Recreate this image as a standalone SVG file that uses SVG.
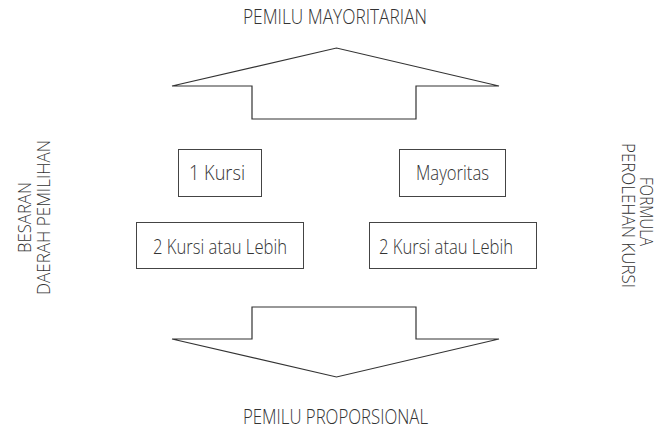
<svg xmlns="http://www.w3.org/2000/svg" width="664" height="432" viewBox="0 0 664 432">
<style>
.t{font-family:"Open Sans","Noto Sans",sans-serif;font-size:20px;font-weight:300;fill:#333;}
.v{font-size:18px;}
.c{text-anchor:middle;}
.shape{fill:#fff;stroke:#333;stroke-width:1.2;}
.box{fill:#fff;stroke:#444;stroke-width:1;}
</style>
<rect width="664" height="432" fill="#fff"/>
<g id="connectors">
<path id="arrow-up" class="shape" d="M172,86 L336.5,48 L499,86 L416,86 L416,119 L252,119 L252,86 Z"/>
<path id="arrow-down" class="shape" d="M252,307 L416,307 L416,339 L499,339 L336.5,377 L172,339 L252,339 Z"/>
</g>
<g id="title-top"><text class="t c" x="335" y="24" textLength="184" lengthAdjust="spacingAndGlyphs">PEMILU MAYORITARIAN</text></g>
<g id="title-bottom"><text class="t c" x="335.5" y="424" textLength="185" lengthAdjust="spacingAndGlyphs">PEMILU PROPORSIONAL</text></g>
<g id="label-left">
<text class="t v c" transform="translate(31,217.5) rotate(-90)" textLength="71" lengthAdjust="spacingAndGlyphs">BESARAN</text>
<text class="t v c" transform="translate(50,217.5) rotate(-90)" textLength="155" lengthAdjust="spacingAndGlyphs">DAERAH PEMILIHAN</text>
</g>
<g id="label-right">
<text class="t v c" transform="translate(640,211.5) rotate(90)" textLength="69" lengthAdjust="spacingAndGlyphs">FORMULA</text>
<text class="t v c" transform="translate(622,215.5) rotate(90)" textLength="145" lengthAdjust="spacingAndGlyphs">PEROLEHAN KURSI</text>
</g>
<g id="node-1kursi"><rect class="box" x="178.5" y="149.5" width="83" height="47"/><text class="t c" x="217" y="180" textLength="56" lengthAdjust="spacingAndGlyphs">1 Kursi</text></g>
<g id="node-mayoritas"><rect class="box" x="399.5" y="149.5" width="106" height="47"/><text class="t c" x="452.5" y="180" textLength="73" lengthAdjust="spacingAndGlyphs">Mayoritas</text></g>
<g id="node-2kursi-left"><rect class="box" x="136.5" y="222.5" width="167" height="46"/><text class="t c" x="220" y="254" textLength="134" lengthAdjust="spacingAndGlyphs">2 Kursi atau Lebih</text></g>
<g id="node-2kursi-right"><rect class="box" x="369.5" y="222.5" width="167" height="46"/><text class="t c" x="446" y="254" textLength="134" lengthAdjust="spacingAndGlyphs">2 Kursi atau Lebih</text></g>
</svg>
